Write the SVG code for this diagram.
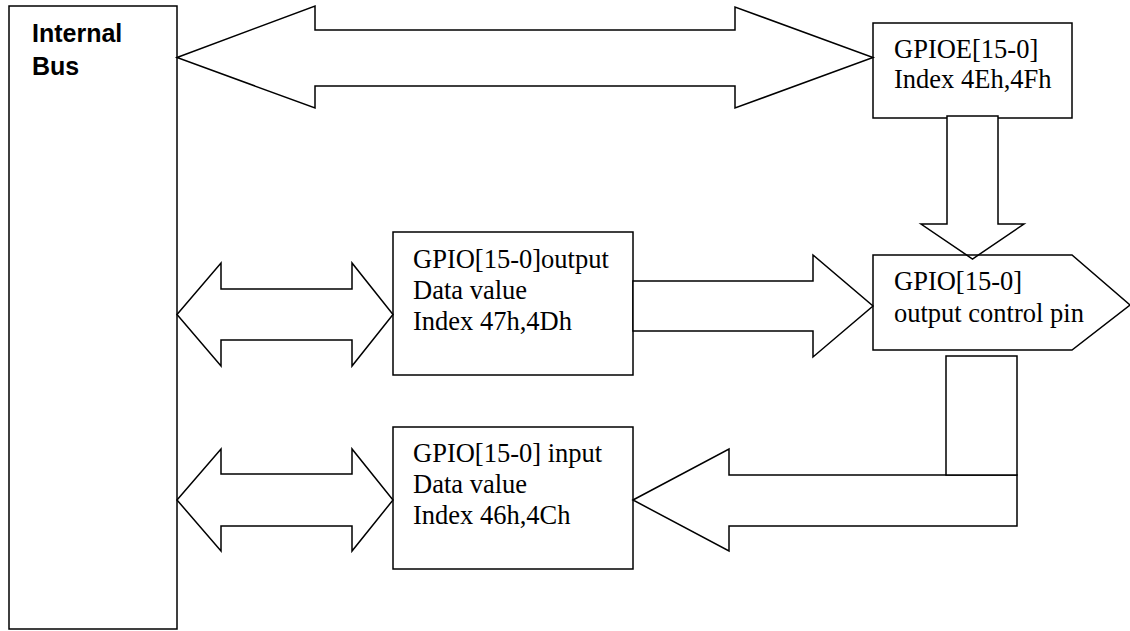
<svg xmlns="http://www.w3.org/2000/svg" width="1130" height="631" viewBox="0 0 1130 631">
<style>
.box{fill:#fff;stroke:#000;stroke-width:1.5}
.arr{fill:#fff;stroke:#000;stroke-width:1.5;stroke-linejoin:miter}
.t{font-family:"Liberation Serif","Times New Roman",serif;font-size:26.5px;fill:#000}
.b{font-family:"Liberation Sans",Arial,sans-serif;font-size:25px;font-weight:bold;fill:#000}
</style>
<rect width="1130" height="631" fill="#fff"/>
<g id="internal-bus">
<rect class="box" x="9" y="6" width="168" height="623"/>
<text class="b" x="32" y="42">Internal</text>
<text class="b" x="32" y="75">Bus</text>
</g>
<g id="gpioe">
<rect class="box" x="873" y="23" width="199" height="95"/>
<text class="t" x="894" y="58">GPIOE[15-0]</text>
<text class="t" x="894" y="88">Index 4Eh,4Fh</text>
</g>
<g id="gpio-output">
<rect class="box" x="393" y="232" width="240" height="143"/>
<text class="t" x="413" y="268">GPIO[15-0]output</text>
<text class="t" x="413" y="299">Data value</text>
<text class="t" x="413" y="330">Index 47h,4Dh</text>
</g>
<g id="gpio-input">
<rect class="box" x="393" y="427" width="240" height="142"/>
<text class="t" x="413" y="462">GPIO[15-0] input</text>
<text class="t" x="413" y="493">Data value</text>
<text class="t" x="413" y="524">Index 46h,4Ch</text>
</g>
<g id="connectors">
<polygon class="arr" points="177,57.5 315,6 315,30 735,30 735,7 873,57.5 735,108 735,86 315,86 315,108"/>
<polygon class="arr" points="947,116 998,116 998,224 1024,224 972.5,259 921,224 947,224"/>
<polygon class="arr" points="177,314.5 221,263 221,289 352,289 352,263 393,314.5 352,366 352,340 221,340 221,366"/>
<polygon class="arr" points="633,281 813,281 813,255 873,306 813,357 813,331 633,331"/>
<polygon class="arr" points="177,500 221,449 221,474 352,474 352,449 393,500 352,551 352,526 221,526 221,551"/>
<polygon class="arr" points="633,500 729,449 729,475 1017,475 1017,526 729,526 729,551"/>
<rect class="arr" x="946" y="356" width="71" height="119"/>
</g>
<g id="gpio-control-pin">
<polygon fill="none" stroke="#000" stroke-width="1.5" points="873,255 1072,255 1130,305 1072,350 873,350"/>
<text class="t" x="894" y="290">GPIO[15-0]</text>
<text class="t" x="894" y="322">output control pin</text>
</g>
</svg>
